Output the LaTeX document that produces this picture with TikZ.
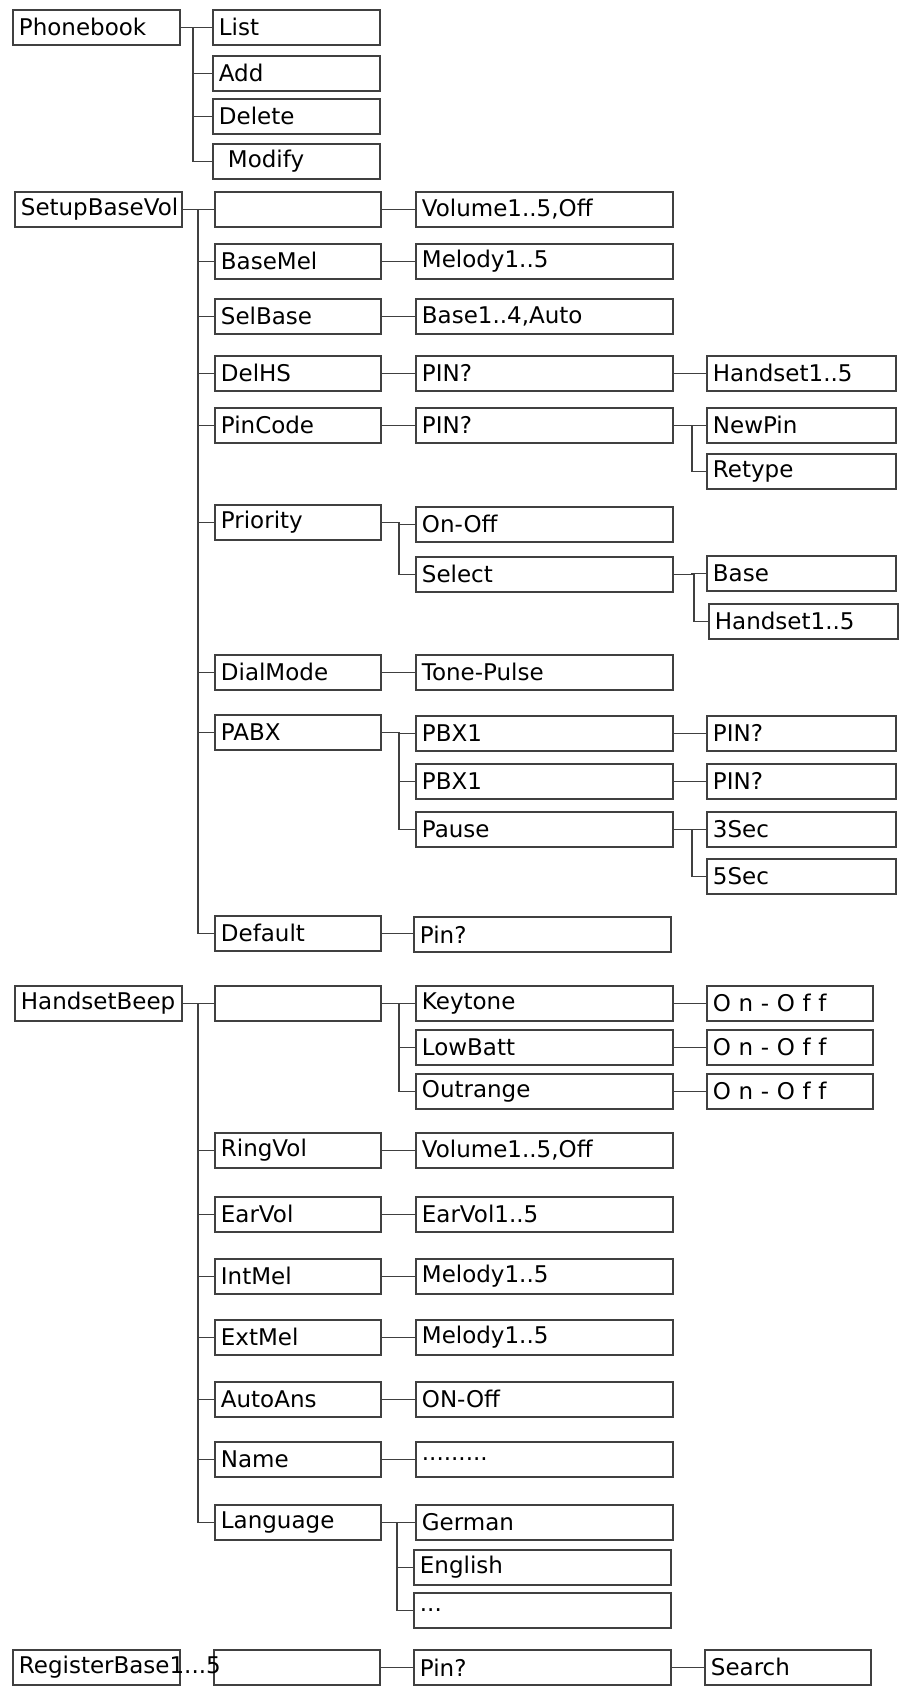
\documentclass[tikz,border=0pt]{standalone}
\usepackage{fontspec}
\setmainfont{DejaVu Sans}
\begin{document}
\begin{tikzpicture}[x=1pt,y=-1pt,
    box/.style={draw=black!75, line width=1.8pt, anchor=north west,
      minimum height=35pt, inner xsep=6pt, inner ysep=0pt, align=left,
      font=\fontsize{23}{26}\selectfont},
    top/.style={box, text width=155pt},
    one/.style={box, text width=154pt},
    two/.style={box, text width=245pt},
    three/.style={box, text width=177pt},
    oo/.style={box, text width=154pt},
    link/.style={draw=black!75, line width=1.8pt}]
    \useasboundingbox (0,0) rectangle (906,1687);

    % Phonebook
    \node[top] (pb) at (12,9) {Phonebook};
    \node[top] (list) at (212,9) {List};
    \node[top] (add) at (212,55) {Add};
    \node[top] (del) at (212,98) {Delete};
    \node[top] (mod) at (212,143) {\hspace{9pt}Modify};
    \foreach \c in {list,add,del,mod}
      \draw[link] (pb.east) -| ([xshift=-19pt]\c.west) -- (\c.west);

    % SetupBaseVol, first level
    \node[top] (sbv) at (14,191) {SetupBaseVol};
    \node[one] (bvol) at (214,191) {};
    \node[one] (bmel) at (214,243) {BaseMel};
    \node[one] (sel) at (214,298) {SelBase};
    \node[one] (dhs) at (214,355) {DelHS};
    \node[one] (pinc) at (214,407) {PinCode};
    \node[one] (prio) at (214,504) {Priority};
    \node[one] (dial) at (214,654) {DialMode};
    \node[one] (pabx) at (214,714) {PABX};
    \node[one] (dflt) at (214,915) {Default};
    \foreach \c in {bvol,bmel,sel,dhs,pinc,prio,dial,pabx,dflt}
      \draw[link] (sbv.east) -| ([xshift=-16pt]\c.west) -- (\c.west);

    % SetupBaseVol, second level
    \node[two] (vol) at (415,191) {Volume1..5,Off};
    \node[two] (mel) at (415,243) {Melody1..5};
    \node[two] (b14) at (415,298) {Base1..4,Auto};
    \node[two] (pina) at (415,355) {PIN?};
    \node[two] (pinb) at (415,407) {PIN?};
    \node[two] (onoff) at (415,506) {On-Off};
    \node[two] (slct) at (415,556) {Select};
    \node[two] (tone) at (415,654) {Tone-Pulse};
    \node[two] (pbxa) at (415,715) {PBX1};
    \node[two] (pbxb) at (415,763) {PBX1};
    \node[two] (paus) at (415,811) {Pause};
    \node[two] (pind) at (413,916) {Pin?};
    \draw[link] (bvol.east) -- (bvol.east -| vol.west);
    \draw[link] (bmel.east) -- (bmel.east -| mel.west);
    \draw[link] (sel.east) -- (sel.east -| b14.west);
    \draw[link] (dhs.east) -- (dhs.east -| pina.west);
    \draw[link] (pinc.east) -- (pinc.east -| pinb.west);
    \draw[link] (dial.east) -- (dial.east -| tone.west);
    \draw[link] (dflt.east) -- (dflt.east -| pind.west);
    \foreach \c in {onoff,slct}
      \draw[link] (prio.east) -| ([xshift=-16pt]\c.west) -- (\c.west);
    \foreach \c in {pbxa,pbxb,paus}
      \draw[link] (pabx.east) -| ([xshift=-16pt]\c.west) -- (\c.west);

    % SetupBaseVol, third level
    \node[three] (hsa) at (706,355) {Handset1..5};
    \node[three] (npin) at (706,407) {NewPin};
    \node[three] (rtyp) at (706,453) {Retype};
    \node[three] (base) at (706,555) {Base};
    \node[three] (hsb) at (708,603) {Handset1..5};
    \node[three] (pine) at (706,715) {PIN?};
    \node[three] (pinf) at (706,763) {PIN?};
    \node[three] (s3) at (706,811) {3Sec};
    \node[three] (s5) at (706,858) {5Sec};
    \draw[link] (pina.east) -- (pina.east -| hsa.west);
    \draw[link] (pbxa.east) -- (pbxa.east -| pine.west);
    \draw[link] (pbxb.east) -- (pbxb.east -| pinf.west);
    \foreach \c in {npin,rtyp}
      \draw[link] (pinb.east) -| ([xshift=-14pt]\c.west) -- (\c.west);
    \foreach \c in {base,hsb}
      \draw[link] (slct.east) -| ([xshift=-14pt]\c.west) -- (\c.west);
    \foreach \c in {s3,s5}
      \draw[link] (paus.east) -| ([xshift=-14pt]\c.west) -- (\c.west);

    % HandsetBeep
    \node[top] (hb) at (14,985) {HandsetBeep};
    \node[one] (beep) at (214,985) {};
    \node[one] (ring) at (214,1132) {RingVol};
    \node[one] (ear) at (214,1196) {EarVol};
    \node[one] (imel) at (214,1258) {IntMel};
    \node[one] (emel) at (214,1319) {ExtMel};
    \node[one] (auto) at (214,1381) {AutoAns};
    \node[one] (name) at (214,1441) {Name};
    \node[one] (lang) at (214,1504) {Language};
    \foreach \c in {beep,ring,ear,imel,emel,auto,name,lang}
      \draw[link] (hb.east) -| ([xshift=-16pt]\c.west) -- (\c.west);

    \node[two] (key) at (415,985) {Keytone};
    \node[two] (batt) at (415,1029) {LowBatt};
    \node[two] (outr) at (415,1073) {Outrange};
    \node[two] (rvol) at (415,1132) {Volume1..5,Off};
    \node[two] (evol) at (415,1196) {EarVol1..5};
    \node[two] (imv) at (415,1258) {Melody1..5};
    \node[two] (emv) at (415,1319) {Melody1..5};
    \node[two] (aon) at (415,1381) {ON-Off};
    \node[two] (dots) at (415,1441) {.........};
    \node[two] (ger) at (415,1504) {German};
    \node[two] (eng) at (413,1549) {English};
    \node[two] (etc) at (413,1592) {...};
    \foreach \c in {key,batt,outr}
      \draw[link] (beep.east) -| ([xshift=-16pt]\c.west) -- (\c.west);
    \draw[link] (ring.east) -- (ring.east -| rvol.west);
    \draw[link] (ear.east) -- (ear.east -| evol.west);
    \draw[link] (imel.east) -- (imel.east -| imv.west);
    \draw[link] (emel.east) -- (emel.east -| emv.west);
    \draw[link] (auto.east) -- (auto.east -| aon.west);
    \draw[link] (name.east) -- (name.east -| dots.west);
    \foreach \c in {ger,eng,etc}
      \draw[link] (lang.east) -| ([xshift=-16pt]\c.west) -- (\c.west);

    \node[oo] (ka) at (706,985) {O n - O f f};
    \node[oo] (kb) at (706,1029) {O n - O f f};
    \node[oo] (kc) at (706,1073) {O n - O f f};
    \draw[link] (key.east) -- (key.east -| ka.west);
    \draw[link] (batt.east) -- (batt.east -| kb.west);
    \draw[link] (outr.east) -- (outr.east -| kc.west);

    % RegisterBase
    \node[one] (reg2) at (213,1649) {};
    \node[two] (rpin) at (413,1649) {Pin?};
    \node[oo] (srch) at (704,1649) {Search};
    \node[top] (reg) at (12,1649) {RegisterBase1...5};
    \draw[link] (reg2.east) -- (reg2.east -| rpin.west);
    \draw[link] (rpin.east) -- (rpin.east -| srch.west);
\end{tikzpicture}
\end{document}
